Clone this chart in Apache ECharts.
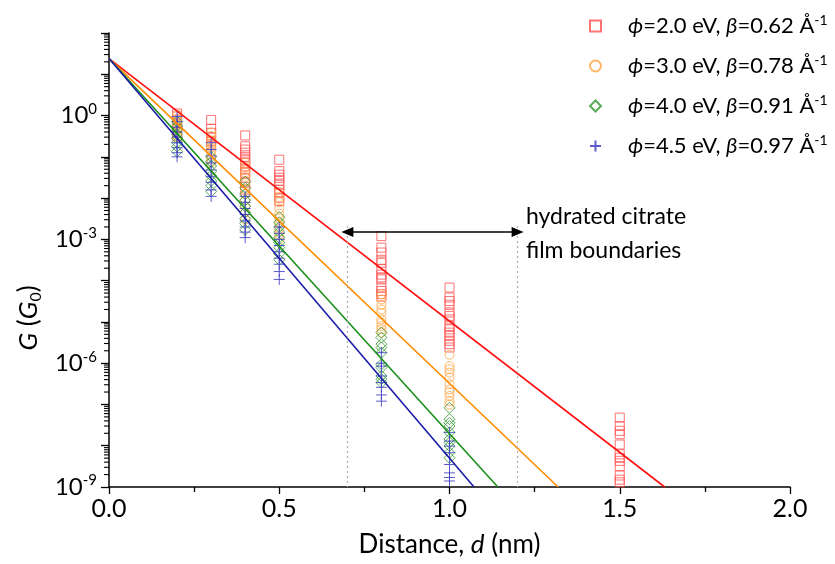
<!DOCTYPE html>
<html><head><meta charset="utf-8">
<script src="https://cdn.jsdelivr.net/npm/echarts@6/dist/echarts.min.js"></script>
<style>html,body{margin:0;padding:0;background:#fff}#c{width:835px;height:564px}</style>
</head><body><div id="c"></div>
<script>
// ---- data: [distance d (nm), G (G0)] ----
const phi20 = [
  [0.2,1.12],[0.2,0.95],[0.2,0.79],[0.2,0.63],[0.2,0.5],[0.2,0.4],[0.2,0.32],
  [0.3,0.78],[0.3,0.48],[0.3,0.38],[0.3,0.30],[0.3,0.24],[0.3,0.20],
  [0.4,0.33],[0.4,0.18],[0.4,0.15],[0.4,0.126],[0.4,0.10],[0.4,0.085],[0.4,0.071],[0.4,0.059],[0.4,0.049],[0.4,0.041],[0.4,0.031],[0.4,0.023],[0.4,0.016],
  [0.5,0.085],[0.5,0.045],[0.5,0.037],[0.5,0.031],[0.5,0.026],[0.5,0.021],[0.5,0.016],[0.5,0.0135],[0.5,0.0102],[0.5,0.0085],
  [0.8,1.2e-3],[0.8,6.3e-4],[0.8,4.8e-4],[0.8,3.2e-4],[0.8,2.7e-4],[0.8,1.9e-4],[0.8,1.4e-4],[0.8,1.2e-4],[0.8,1.07e-4],[0.8,6.8e-5],[0.8,5.6e-5],[0.8,4.7e-5],[0.8,4.1e-5],
  [1.0,6.8e-5],[1.0,3.9e-5],[1.0,3.2e-5],[1.0,2.6e-5],[1.0,1.7e-5],[1.0,1.4e-5],[1.0,1.15e-5],[1.0,7.9e-6],[1.0,6.6e-6],[1.0,5.5e-6],[1.0,4.6e-6],[1.0,3.5e-6],[1.0,2.9e-6],[1.0,2.4e-6],
  [1.5,4.8e-8],[1.5,3.0e-8],[1.5,2.3e-8],[1.5,1.9e-8],[1.5,1.07e-8],[1.5,6.2e-9],[1.5,5.1e-9],[1.5,4.3e-9],[1.5,3.2e-9],[1.5,1.9e-9],[1.5,1.5e-9],[1.5,1.3e-9]
];
const phi30 = [
  [0.2,1.05],[0.2,0.83],[0.2,0.71],[0.2,0.6],[0.2,0.5],[0.2,0.42],[0.2,0.35],[0.2,0.31],
  [0.3,0.39],[0.3,0.32],[0.3,0.25],[0.3,0.21],[0.3,0.166],[0.3,0.138],[0.3,0.112],[0.3,0.089],[0.3,0.072],
  [0.4,0.072],[0.4,0.056],[0.4,0.042],[0.4,0.032],[0.4,0.024],[0.4,0.0166],[0.4,0.0126],[0.4,0.0089],[0.4,0.0063],[0.4,0.0045],[0.4,0.003],
  [0.5,0.0138],[0.5,0.0105],[0.5,0.0079],[0.5,0.0056],[0.5,0.0042],[0.5,0.0032],[0.5,0.0024],[0.5,0.0018],[0.5,0.0013],[0.5,0.001],
  [0.8,4.7e-5],[0.8,3.5e-5],[0.8,2.6e-5],[0.8,2.0e-5],[0.8,1.66e-5],[0.8,1.15e-5],[0.8,9.5e-6],[0.8,7.9e-6],[0.8,6.6e-6],[0.8,5.5e-6],
  [1.0,1.6e-6],[1.0,8.5e-7],[1.0,7.1e-7],[1.0,5.9e-7],[1.0,4.5e-7],[1.0,3.1e-7],[1.0,2.3e-7],[1.0,1.95e-7],[1.0,1.6e-7],[1.0,1.2e-7],[1.0,1.0e-7]
];
const phi40 = [
  [0.2,0.71],[0.2,0.56],[0.2,0.45],[0.2,0.35],[0.2,0.28],[0.2,0.22],[0.2,0.178],[0.2,0.135],
  [0.3,0.1],[0.3,0.076],[0.3,0.06],[0.3,0.045],[0.3,0.035],[0.3,0.026],[0.3,0.02],[0.3,0.0145],
  [0.4,0.025],[0.4,0.0178],[0.4,0.0126],[0.4,0.0089],[0.4,0.0063],[0.4,0.0045],[0.4,0.0032],[0.4,0.0024],[0.4,0.0017],
  [0.5,3.5e-3],[0.5,2.6e-3],[0.5,2.0e-3],[0.5,1.5e-3],[0.5,1.1e-3],[0.5,8.3e-4],[0.5,6.3e-4],[0.5,4.5e-4],[0.5,3.2e-4],
  [0.8,5.5e-6],[0.8,4.2e-6],[0.8,2.9e-6],[0.8,2.4e-6],[0.8,1.8e-6],[0.8,9.3e-7],[0.8,7.8e-7],[0.8,4.9e-7],[0.8,4.1e-7],[0.8,3.4e-7],
  [1.0,8.3e-8],[1.0,4.4e-8],[1.0,3.6e-8],[1.0,3.0e-8],[1.0,2.1e-8],[1.0,1.45e-8],[1.0,1.2e-8],[1.0,9.8e-9],[1.0,6.8e-9],[1.0,5.1e-9]
];
const phi45 = [
  [0.2,0.95],[0.2,0.71],[0.2,0.52],[0.2,0.4],[0.2,0.3],[0.2,0.22],[0.2,0.166],[0.2,0.126],[0.2,0.1],
  [0.3,0.22],[0.3,0.15],[0.3,0.105],[0.3,0.071],[0.3,0.048],[0.3,0.033],[0.3,0.024],[0.3,0.0158],[0.3,0.011],
  [0.4,0.011],[0.4,0.0079],[0.4,0.0056],[0.4,0.004],[0.4,0.0028],[0.4,0.002],[0.4,0.0015],[0.4,0.0011],
  [0.5,2.0e-3],[0.5,1.4e-3],[0.5,1.0e-3],[0.5,7.1e-4],[0.5,5.0e-4],[0.5,3.5e-4],[0.5,2.5e-4],[0.5,1.66e-4],[0.5,1.07e-4],
  [0.8,1.8e-6],[0.8,1.0e-6],[0.8,8.5e-7],[0.8,4.9e-7],[0.8,3.4e-7],[0.8,2.6e-7],[0.8,1.7e-7],[0.8,1.2e-7],
  [1.0,2.1e-8],[1.0,1.3e-8],[1.0,9.8e-9],[1.0,6.8e-9],[1.0,3.5e-9],[1.0,2.2e-9],[1.0,1.7e-9],[1.0,1.4e-9]
];
// fit lines: [d, G] end points
const fit20 = [[0, 24], [1.632, 1e-9]];
const fit30 = [[0, 24], [1.319, 1e-9]];
const fit40 = [[0, 24], [1.142, 1e-9]];
const fit45 = [[0, 24], [1.072, 1e-9]];
// legend labels
const legendLabels = {
  phi20: '{i|ϕ}=2.0 eV, {i|β}=0.62 Å{sup|-1}',
  phi30: '{i|ϕ}=3.0 eV, {i|β}=0.78 Å{sup|-1}',
  phi40: '{i|ϕ}=4.0 eV, {i|β}=0.91 Å{sup|-1}',
  phi45: '{i|ϕ}=4.5 eV, {i|β}=0.97 Å{sup|-1}'
};
// axis ticks
const xTickValues = [0, 0.5, 1.0, 1.5, 2.0];
const yLabelExponents = [0, -3, -6, -9];
const yDecades = [-9,-8,-7,-6,-5,-4,-3,-2,-1,0,1];
const minorMantissas = [2,3,4,5,6,7,8,9];
// annotation
const filmBounds = [0.7, 1.2];
const arrowLevel = 1.5e-3;
const boundTop = 2.1e-3;

const FONT = 'Lato, "Open Sans", sans-serif';
const cols = {phi20:'#ff5a5a', phi30:'#ffa94d', phi40:'#3a9d3a', phi45:'#4040c4'};
const lineCols = {phi20:'#ff1010', phi30:'#ff8c00', phi40:'#1a8f1a', phi45:'#1c1caa'};

const minorTicks = [];
yDecades.forEach(k => minorMantissas.forEach(m => minorTicks.push([0, m * Math.pow(10, k)])));

function scatter(name, data, symbol, size) {
  return {
    type: 'scatter', name, data, symbol, symbolSize: size,
    itemStyle: {color: 'rgba(0,0,0,0)', borderColor: cols[name], borderWidth: 1, opacity: 0.85},
    emphasis: {disabled: true}, z: 2
  };
}
function fitLine(name, data) {
  return {
    type: 'line', name: name + '_fit', data, showSymbol: false, symbol: 'none',
    lineStyle: {color: lineCols[name], width: 1.6}, emphasis: {disabled: true}, z: 3
  };
}

const chart = echarts.init(document.getElementById('c'), null, {renderer: 'canvas'});
chart.setOption({
  animation: false,
  backgroundColor: '#fff',
  textStyle: {fontFamily: FONT, color: '#000'},
  grid: {left: 109, right: 45, top: 33, bottom: 77, containLabel: false, outerBoundsMode: 'none'},
  xAxis: {
    type: 'value', min: 0, max: 2, interval: 0.5,
    axisLine: {lineStyle: {color: '#000', width: 1.5}},
    axisTick: {length: 7, lineStyle: {color: '#000', width: 1.3}},
    minorTick: {show: true, splitNumber: 2, length: 5, lineStyle: {color: '#000', width: 1.3}},
    splitLine: {show: false},
    axisLabel: {fontSize: 25, color: '#000', margin: 9, fontFamily: FONT,
      formatter: v => xTickValues.some(t => Math.abs(t - v) < 1e-9) ? v.toFixed(1) : ''},
    name: 'Distance, {i|d} (nm)', nameLocation: 'middle', nameGap: 45,
    nameTextStyle: {fontSize: 26, color: '#000', fontFamily: FONT,
      rich: {i: {fontStyle: 'italic', fontSize: 26, fontFamily: FONT}}}
  },
  yAxis: {
    type: 'log', logBase: 10, min: 1e-9, max: 1e2, interval: 1,
    axisLine: {show: true, lineStyle: {color: '#000', width: 1.5}},
    axisTick: {show: true, length: 8, lineStyle: {color: '#000', width: 1.3}},
    splitLine: {show: false},
    axisLabel: {
      margin: 12, color: '#000', fontFamily: FONT,
      formatter: v => {
        const e = Math.round(Math.log10(v));
        return yLabelExponents.indexOf(e) >= 0 ? '{b|10}{s|' + e + '}' : '';
      },
      rich: {
        b: {fontSize: 24, fontFamily: FONT, color: '#000', lineHeight: 28},
        s: {fontSize: 15, fontFamily: FONT, color: '#000', verticalAlign: 'top', lineHeight: 14}
      }
    }
  },
  legend: {
    data: ['phi20', 'phi30', 'phi40', 'phi45'],
    orient: 'vertical', left: 584, top: 8, itemWidth: 11, itemHeight: 11, itemGap: 16,
    formatter: n => '{sp| }' + legendLabels[n],
    textStyle: {fontSize: 22, color: '#000', fontFamily: FONT,
      rich: {
        sp: {width: 22, fontSize: 22, lineHeight: 26},
        i: {fontStyle: 'italic', fontSize: 22, fontFamily: FONT, lineHeight: 26},
        sup: {fontSize: 14, fontFamily: FONT, verticalAlign: 'top', lineHeight: 12}
      }}
  },
  graphic: [
    {type: 'text', x: 29, y: 318, rotation: Math.PI / 2,
      style: {text: '{i|G} ({i|G}{sub|0})', align: 'center', verticalAlign: 'middle',
        fill: '#000', font: '26px ' + FONT,
        rich: {i: {fontStyle: 'italic', fontSize: 26, fontFamily: FONT, lineHeight: 30},
               sub: {fontSize: 16, fontFamily: FONT, verticalAlign: 'bottom', lineHeight: 12}}}},
    {type: 'text', left: 526, top: 200,
      style: {text: 'hydrated citrate\nfilm boundaries', fill: '#000', font: '23px ' + FONT, lineHeight: 34}}
  ],
  series: [
    scatter('phi20', phi20, 'rect', 9),
    scatter('phi30', phi30, 'circle', 9),
    scatter('phi40', phi40, 'diamond', 11),
    scatter('phi45', phi45, 'path://M0,5L10,5M5,0L5,10', 11),
    fitLine('phi20', fit20), fitLine('phi30', fit30), fitLine('phi40', fit40), fitLine('phi45', fit45),
    {
      type: 'line', name: 'annot', data: [], silent: true,
      markLine: {
        silent: true, animation: false, label: {show: false},
        data: [
          [{coord: [filmBounds[0], boundTop], symbol: 'none'}, {coord: [filmBounds[0], 1e-9], symbol: 'none',
            lineStyle: {color: '#b0b0b0', type: [2, 3], width: 1.2}}],
          [{coord: [filmBounds[1], boundTop], symbol: 'none'}, {coord: [filmBounds[1], 1e-9], symbol: 'none',
            lineStyle: {color: '#b0b0b0', type: [2, 3], width: 1.2}}],
          [{coord: [filmBounds[0], arrowLevel], symbol: 'triangle', symbolSize: [10, 12], symbolRotate: 90},
           {coord: [filmBounds[1], arrowLevel], symbol: 'triangle', symbolSize: [10, 12], symbolRotate: -90,
            lineStyle: {color: '#000', type: 'solid', width: 1.6}}]
        ],
        lineStyle: {color: '#000', type: 'solid', width: 1.6}
      }
    },
    {
      type: 'custom', name: 'yminor', data: minorTicks, silent: true, clip: false, z: 5,
      renderItem: (params, api) => {
        const p = api.coord([0, api.value(1)]);
        return {type: 'line', shape: {x1: p[0] - 5, y1: p[1], x2: p[0], y2: p[1]},
          style: {stroke: '#000', lineWidth: 1.1}};
      }
    }
  ]
});
</script></body></html>
